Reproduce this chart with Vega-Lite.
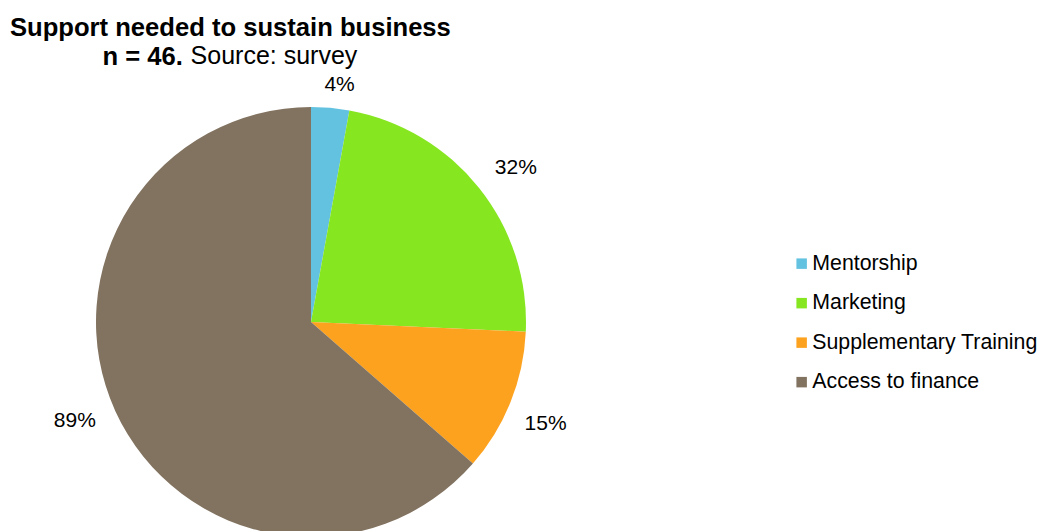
{
  "$schema": "https://vega.github.io/schema/vega-lite/v6.json",
  "autosize": {"type": "none"},
  "padding": {"left": 0, "top": 113, "right": 415, "bottom": 0},
  "width": 622,
  "height": 418,
  "background": "white",
  "title": {
    "text": ["Support needed to sustain business", "\u200b\u00a0\u00a0\u00a0\u00a0\u00a0\u00a0\u00a0\u00a0\u00a0\u00a0\u00a0\u00a0\u00a0n = 46."],
    "subtitle": "\u200b\u00a0\u00a0\u00a0\u00a0\u00a0\u00a0\u00a0\u00a0\u00a0\u00a0\u00a0\u00a0\u00a0\u00a0\u00a0\u00a0\u00a0\u00a0\u00a0\u00a0\u00a0\u00a0\u00a0\u00a0\u00a0\u00a0Source: survey",
    "anchor": "start",
    "frame": "group",
    "dx": 10,
    "offset": -13.5,
    "font": "Liberation Sans",
    "fontSize": 25.6,
    "fontWeight": "bold",
    "color": "#000000",
    "lineHeight": 29,
    "subtitleFont": "Liberation Sans",
    "subtitleFontSize": 25,
    "subtitleFontWeight": "normal",
    "subtitleColor": "#000000",
    "subtitlePadding": -26
  },
  "data": {
    "values": [
      {"category": "Mentorship", "value": 4, "label": "4%", "idx": 1},
      {"category": "Marketing", "value": 32, "label": "32%", "idx": 2},
      {"category": "Supplementary Training", "value": 15, "label": "15%", "idx": 3},
      {"category": "Access to finance", "value": 89, "label": "89%", "idx": 4}
    ]
  },
  "encoding": {
    "theta": {"field": "value", "type": "quantitative", "stack": true},
    "order": {"field": "idx", "type": "quantitative"}
  },
  "layer": [
    {
      "mark": {"type": "arc", "outerRadius": 215},
      "encoding": {
        "color": {
          "field": "category",
          "type": "nominal",
          "scale": {
            "domain": ["Mentorship", "Marketing", "Supplementary Training", "Access to finance"],
            "range": ["#63c2e0", "#86e620", "#fca21f", "#827360"]
          },
          "legend": {
            "orient": "none",
            "legendX": 791,
            "legendY": 140,
            "title": null,
            "padding": 0,
            "symbolType": "square",
            "symbolSize": 110,
            "symbolStrokeWidth": 0,
            "labelFont": "Liberation Sans",
            "labelFontSize": 21.3,
            "labelColor": "#000000",
            "labelOffset": 0,
            "rowPadding": 17.5,
            "labelLimit": 400
          }
        }
      }
    },
    {
      "mark": {"type": "text", "radius": 239, "thetaOffset": 0.03, "font": "Liberation Sans", "fontSize": 21, "fill": "#000000", "align": "center", "baseline": "middle"},
      "encoding": {
        "detail": {"field": "category", "type": "nominal"},
        "text": {"condition": {"test": "datum.category === 'Mentorship'", "field": "label", "type": "nominal"}, "value": ""}
      }
    },
    {
      "mark": {"type": "text", "radius": 256, "thetaOffset": 0.03, "font": "Liberation Sans", "fontSize": 21, "fill": "#000000", "align": "center", "baseline": "middle"},
      "encoding": {
        "detail": {"field": "category", "type": "nominal"},
        "text": {"condition": {"test": "datum.category !== 'Mentorship'", "field": "label", "type": "nominal"}, "value": ""}
      }
    }
  ]
}
